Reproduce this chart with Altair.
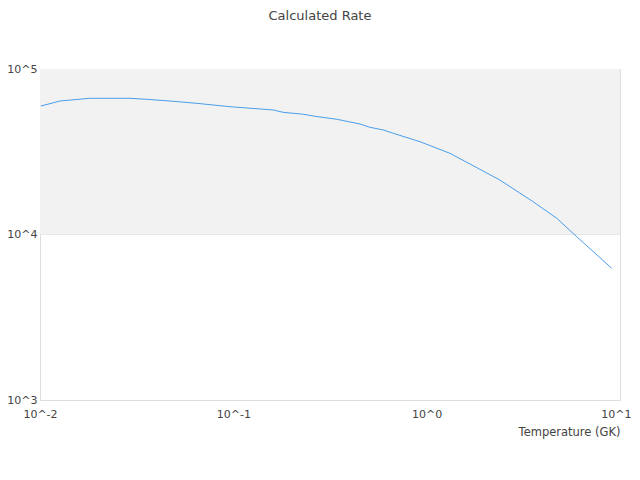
import altair as alt
import pandas as pd

temperature = [0.0101, 0.0127, 0.0181, 0.0292, 0.0356, 0.047, 0.0646, 0.0961, 0.161, 0.181,
               0.230, 0.259, 0.343, 0.452, 0.509, 0.597, 0.672, 0.924, 1.32, 2.39,
               3.55, 4.71, 5.97, 9.06]
rate = [59750, 64060, 66530, 66530, 65600, 64060, 62030, 59170, 56540, 54760,
        53260, 52000, 49680, 46530, 44430, 42800, 40880, 36370, 30940, 21350,
        15790, 12530, 9700, 6250]
x_ticks = [0.01, 0.1, 1, 10]
y_ticks = [1000, 10000, 100000]
band = {"lo": [10000], "hi": [100000]}

df = pd.DataFrame({"T": temperature, "R": rate})
band_df = pd.DataFrame(band)

W, H = 580, 331
FONT = "DejaVu Sans"
TXT = "#444444"

xscale = alt.Scale(type="log", domain=[0.01, 10], nice=False)
yscale = alt.Scale(type="log", domain=[1000, 100000], nice=False)

label_expr = "'10^' + toString(round(log(datum.value) / LN10))"

band_layer = alt.Chart(band_df).mark_rect(color="#f2f2f2").encode(
    x=alt.value(0), x2=alt.value(W),
    y=alt.Y("lo:Q", scale=yscale), y2="hi:Q",
)

line = alt.Chart(df).mark_line(color="#4a9eed", strokeWidth=1).encode(
    x=alt.X("T:Q", scale=xscale, title="Temperature (GK)",
            axis=alt.Axis(values=x_ticks, labelExpr=label_expr, ticks=False, domain=False,
                          grid=False, labelPadding=8, labelFontSize=11, labelColor=TXT,
                          labelAlign={"condition": {"test": "datum.value >= 10", "value": "right"},
                                      "value": "center"},
                          labelOffset={"condition": {"test": "datum.value >= 10", "value": 11},
                                       "value": 0},
                          labelFont=FONT, titleFont=FONT, titleFontSize=11.5,
                          titleFontWeight="normal", titleColor=TXT,
                          titleAnchor="end", titleAlign="right", titleX=W, titleY=26,
                          labelFlush=False)),
    y=alt.Y("R:Q", scale=yscale, title=None,
            axis=alt.Axis(values=y_ticks, labelExpr=label_expr, ticks=False, domain=False,
                          grid=True, gridColor="#dddddd", labelPadding=3, labelFontSize=11,
                          labelColor=TXT, labelFont=FONT, labelFlush=False)),
)

chart = alt.layer(band_layer, line).properties(
    width=W, height=H,
    title=alt.TitleParams("Calculated Rate", font=FONT, fontSize=13, fontWeight="normal",
                          color=TXT, anchor="middle", dx=-10, offset=40),
    autosize=alt.AutoSizeParams(type="none"),
    padding={"left": 32, "top": 61, "right": 12, "bottom": 64},
).configure_view(stroke="#dddddd", strokeWidth=1).configure(background="white")

chart.save("out.html", embed_options={"renderer": "svg", "actions": False})
